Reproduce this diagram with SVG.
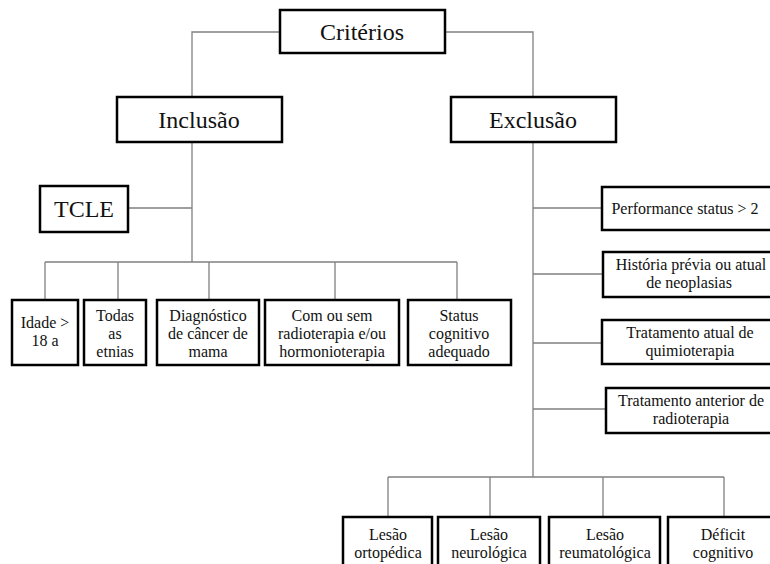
<svg xmlns="http://www.w3.org/2000/svg" width="770" height="564" viewBox="0 0 770 564">
<style>
.box{fill:#fff;stroke:#000;stroke-width:2.5}
.c{fill:none;stroke:#808080;stroke-width:1.3}
text{font-family:'Liberation Serif','Times New Roman','DejaVu Serif',serif;fill:#111;text-anchor:middle}
.big{font-size:24px}
.sm{font-size:16px}
</style>
<rect width="770" height="564" fill="#fff"/>
<g id="connectors">
<path class="c" d="M280 32H192V97M445 32H533V97"/>
<path class="c" d="M192 142V262M128 208H192M45 262H457M45 262V300M118 262V300M209 262V300M335 262V300M457 262V300"/>
<path class="c" d="M533 142V477M533 208H602M533 274H602M533 343H602M533 409H606"/>
<path class="c" d="M388 477H724M388 477V517M490 477V517M603 477V517M724 477V517"/>
</g>
<g id="criterios"><rect class="box" x="280" y="10" width="165" height="43"/><text class="big" x="362" y="40">Critérios</text></g>
<g id="inclusao"><rect class="box" x="117" y="97" width="165" height="45"/><text class="big" x="199" y="128">Inclusão</text></g>
<g id="exclusao"><rect class="box" x="451" y="97" width="165" height="45"/><text class="big" x="533" y="128">Exclusão</text></g>
<g id="tcle"><rect class="box" x="40" y="186" width="88" height="46"/><text class="big" x="84" y="217">TCLE</text></g>
<g id="idade"><rect class="box" x="12" y="300" width="66" height="65"/><text class="sm" x="45" y="328">Idade &gt;</text><text class="sm" x="45" y="346">18 a</text></g>
<g id="etnias"><rect class="box" x="84" y="300" width="62" height="65"/><text class="sm" x="115" y="321">Todas</text><text class="sm" x="115" y="339">as</text><text class="sm" x="115" y="357">etnias</text></g>
<g id="diagnostico"><rect class="box" x="157" y="300" width="102" height="65"/><text class="sm" x="208" y="321">Diagnóstico</text><text class="sm" x="208" y="339">de câncer de</text><text class="sm" x="208" y="357">mama</text></g>
<g id="radioterapia"><rect class="box" x="265" y="300" width="134" height="65"/><text class="sm" x="332" y="321">Com ou sem</text><text class="sm" x="332" y="339">radioterapia e/ou</text><text class="sm" x="332" y="357">hormonioterapia</text></g>
<g id="status"><rect class="box" x="408" y="300" width="103" height="65"/><text class="sm" x="459" y="321">Status</text><text class="sm" x="459" y="339">cognitivo</text><text class="sm" x="459" y="357">adequado</text></g>
<g id="performance"><rect class="box" x="602" y="187" width="180" height="43"/><text class="sm" x="685" y="214">Performance status &gt; 2</text></g>
<g id="historia"><rect class="box" x="603" y="252" width="180" height="45"/><text class="sm" x="691" y="270">História prévia ou atual</text><text class="sm" x="689" y="288">de neoplasias</text></g>
<g id="quimioterapia"><rect class="box" x="602" y="320" width="180" height="44"/><text class="sm" x="690" y="338">Tratamento atual de</text><text class="sm" x="690" y="356">quimioterapia</text></g>
<g id="radioterapia-anterior"><rect class="box" x="606" y="388" width="180" height="45"/><text class="sm" x="691" y="406">Tratamento anterior de</text><text class="sm" x="691" y="424">radioterapia</text></g>
<g id="ortopedica"><rect class="box" x="343" y="517" width="89" height="60"/><text class="sm" x="388" y="540">Lesão</text><text class="sm" x="388" y="558">ortopédica</text></g>
<g id="neurologica"><rect class="box" x="438" y="517" width="102" height="60"/><text class="sm" x="489" y="540">Lesão</text><text class="sm" x="489" y="558">neurológica</text></g>
<g id="reumatologica"><rect class="box" x="549" y="517" width="111" height="60"/><text class="sm" x="605" y="540">Lesão</text><text class="sm" x="605" y="558">reumatológica</text></g>
<g id="deficit"><rect class="box" x="668" y="517" width="112" height="60"/><text class="sm" x="723" y="540">Déficit</text><text class="sm" x="723" y="558">cognitivo</text></g>
</svg>
